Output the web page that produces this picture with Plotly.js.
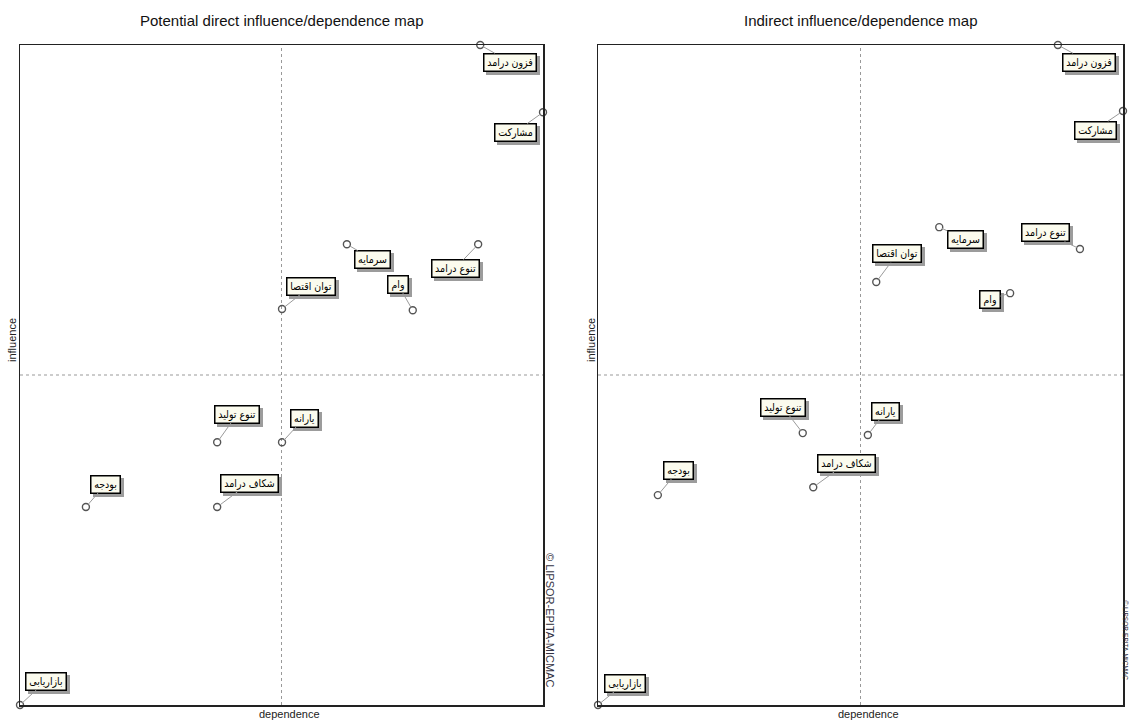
<!DOCTYPE html>
<html><head><meta charset="utf-8">
<script src="https://cdn.plot.ly/plotly-3.0.1.min.js"></script>
<style>html,body{margin:0;padding:0;background:#fff}#chart{width:1129px;height:723px}</style>
</head><body><div id="chart"></div>
<script>
// ---- data ----
const categories = ["فزون درامد", "مشارکت", "سرمایه", "تنوع درامد", "توان اقتصا", "وام", "تنوع تولید", "یارانه", "شکاف درامد", "بودجه", "بازاریابی"];
const directDependence = [88.0, 100, 62.5, 87.6, 50.1, 75.1, 37.7, 50.1, 37.7, 12.6, 0];
const directInfluence  = [100, 89.8, 69.8, 69.8, 60.0, 59.8, 39.8, 39.8, 30.0, 30.0, 0];
const indirectDependence = [87.6, 100, 65.0, 91.8, 53.0, 78.5, 39.0, 51.4, 41.0, 11.4, 0];
const indirectInfluence  = [100, 90.0, 72.4, 69.1, 64.1, 62.4, 41.2, 40.9, 33.0, 31.8, 0];
const chartTitles = ["Potential direct influence/dependence map", "Indirect influence/dependence map"];
const xAxisLabel = "dependence";
const yAxisLabel = "influence";
const quadrantMid = 50;
const copyrightText = "© LIPSOR-EPITA-MICMAC";

// ---- styling (label offsets in pixels, relative to each point) ----
const directOffsets = [[30,17],[-28,20],[26,15],[-23,24],[29,-23],[-15,-26],[20,-28],[22,-24],[32,-24],[20,-23],[26,-24]];
const indirectOffsets = [[31,17],[-28,19],[26,12],[-34,-16],[21,-28],[-20,6],[-20,-26],[18,-24],[33,-24],[21,-25],[27,-22]];

const W = 1129, H = 723;
const leftDom = [20/W, 543/W];
const rightDom = [598/W, 1123/W];
const yDom = [1 - 705/H, 1 - 45/H];

function pointTrace(xs, ys, xa, ya) {
  return {
    x: xs, y: ys, xaxis: xa, yaxis: ya, type: 'scatter', mode: 'markers',
    cliponaxis: false, hoverinfo: 'skip', showlegend: false,
    marker: {symbol: 'circle-open', size: 7, color: '#555', line: {width: 1.4, color: '#555'}}
  };
}

const labelSize = 10.5;
const labelFont = {family: 'DejaVu Sans Condensed, DejaVu Sans, sans-serif', size: labelSize, color: '#000'};
const measureCtx = document.createElement('canvas').getContext('2d');
measureCtx.font = labelSize + 'px "DejaVu Sans Condensed", "DejaVu Sans", sans-serif';
function boxWidth(t) { return Math.ceil(measureCtx.measureText(t).width) + 3; }
const boxHeight = 14;

function labelAnnotations(xs, ys, offs, xr, yr) {
  const out = [];
  for (let i = 0; i < categories.length; i++) {
    // shadow box (no text)
    out.push({x: xs[i], y: ys[i], xref: xr, yref: yr, text: '\u00a0',
      width: boxWidth(categories[i]), height: boxHeight,
      showarrow: true, ax: offs[i][0], ay: offs[i][1], axref: 'pixel', ayref: 'pixel',
      arrowcolor: 'rgba(0,0,0,0)', arrowwidth: 0.1, arrowhead: 0,
      xshift: 3, yshift: -3,
      font: labelFont, bgcolor: '#9c9c9c',
      bordercolor: '#9c9c9c', borderwidth: 1.5, borderpad: 1});
  }
  for (let i = 0; i < categories.length; i++) {
    out.push({x: xs[i], y: ys[i], xref: xr, yref: yr, text: categories[i],
      width: boxWidth(categories[i]), height: boxHeight,
      showarrow: true, ax: offs[i][0], ay: offs[i][1], axref: 'pixel', ayref: 'pixel',
      arrowcolor: '#9a9a9a', arrowwidth: 1, arrowhead: 0, standoff: 3,
      font: labelFont, bgcolor: '#fbfbee', bordercolor: '#000', borderwidth: 1.5, borderpad: 1});
  }
  return out;
}

function axisCfg(dom) {
  return {domain: dom, range: [0, 100], showline: true, mirror: true, linecolor: '#222', linewidth: 1.5,
    showticklabels: false, ticks: '', showgrid: false, zeroline: false, fixedrange: true};
}

const titleFont = {family: 'Liberation Sans Narrow, Arial Narrow, Liberation Sans, sans-serif', size: 15, color: '#111'};
const axFont = {family: 'Liberation Sans, Arial, sans-serif', size: 11, color: '#222'};
const copyFont = {family: 'Liberation Sans, Arial, sans-serif', size: 11, color: '#334'};
const copyFontSmall = {family: 'Liberation Sans, Arial, sans-serif', size: 6.5, color: '#334'};
function paperText(text, px, py, font, angle) {
  return {text: text, xref: 'paper', yref: 'paper', x: px / W, y: 1 - py / H, xanchor: 'center', yanchor: 'middle',
    showarrow: false, textangle: angle || 0, font: font};
}

const annotations = [
  paperText(chartTitles[0], 281.5, 20, titleFont),
  paperText(chartTitles[1], 860.5, 20, titleFont),
  paperText(xAxisLabel, 289, 714, axFont),
  paperText(xAxisLabel, 868, 714, axFont),
  paperText(yAxisLabel, 12, 340, axFont, -90),
  paperText(yAxisLabel, 591, 340, axFont, -90),
  paperText(copyrightText, 550, 620, copyFont, 90),
  paperText(copyrightText, 1125.5, 640, copyFontSmall, 90)
].concat(labelAnnotations(directDependence, directInfluence, directOffsets, 'x', 'y'))
 .concat(labelAnnotations(indirectDependence, indirectInfluence, indirectOffsets, 'x2', 'y2'));

const lineStyle = {color: '#999', width: 1, dash: 'dot'};
const shapes = [
  {type: 'line', xref: 'x', yref: 'y domain', x0: quadrantMid, x1: quadrantMid, y0: 0, y1: 1, line: lineStyle, layer: 'below'},
  {type: 'line', xref: 'x domain', yref: 'y', x0: 0, x1: 1, y0: quadrantMid, y1: quadrantMid, line: lineStyle, layer: 'below'},
  {type: 'line', xref: 'x2', yref: 'y2 domain', x0: quadrantMid, x1: quadrantMid, y0: 0, y1: 1, line: lineStyle, layer: 'below'},
  {type: 'line', xref: 'x2 domain', yref: 'y2', x0: 0, x1: 1, y0: quadrantMid, y1: quadrantMid, line: lineStyle, layer: 'below'}
];

const layout = {
  width: W, height: H, margin: {l: 0, r: 0, t: 0, b: 0},
  paper_bgcolor: '#fff', plot_bgcolor: '#fff', showlegend: false,
  xaxis: Object.assign(axisCfg(leftDom), {anchor: 'y'}),
  yaxis: Object.assign(axisCfg(yDom), {anchor: 'x'}),
  xaxis2: Object.assign(axisCfg(rightDom), {anchor: 'y2'}),
  yaxis2: Object.assign(axisCfg(yDom), {anchor: 'x2'}),
  annotations: annotations, shapes: shapes
};

Plotly.newPlot('chart', [
  pointTrace(directDependence, directInfluence, 'x', 'y'),
  pointTrace(indirectDependence, indirectInfluence, 'x2', 'y2')
], layout, {displayModeBar: false, staticPlot: true});
</script></body></html>
